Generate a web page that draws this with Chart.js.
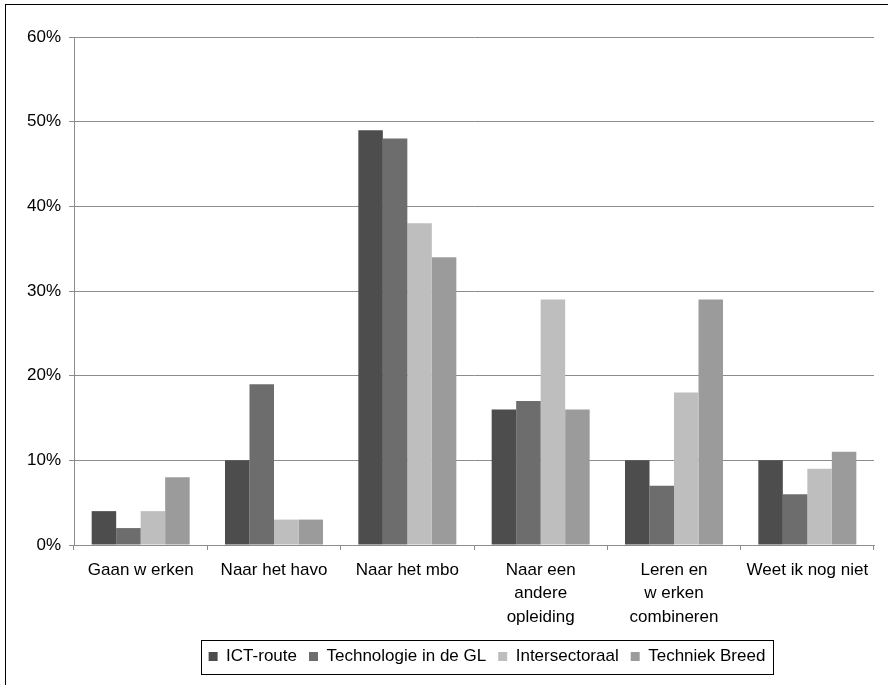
<!DOCTYPE html>
<html>
<head>
<meta charset="utf-8">
<script src="https://cdn.jsdelivr.net/npm/chart.js@4/dist/chart.umd.min.js"></script>
<style>
  body { margin: 0; background: #fff; }
  canvas { display: block; }
</style>
</head>
<body>
<canvas id="myChart" width="888" height="685"></canvas>
<script>
// categories (x axis), multi line ones as arrays
var categories = [
  "Gaan w erken",
  "Naar het havo",
  "Naar het mbo",
  ["Naar een", "andere", "opleiding"],
  ["Leren en", "w erken", "combineren"],
  "Weet ik nog niet"
];

// percentages per series
var ictRoute = [4, 10, 49, 16, 10, 10];
var technologieGL = [2, 19, 48, 17, 7, 6];
var intersectoraal = [4, 3, 38, 29, 18, 9];
var techniekBreed = [8, 3, 34, 16, 29, 11];

var seriesNames = ["ICT-route", "Technologie in de GL", "Intersectoraal", "Techniek Breed"];
var barColors = ["#4d4d4d", "#6d6d6d", "#bebebe", "#9b9b9b"];

var yTicks = [0, 10, 20, 30, 40, 50, 60];

var fontFam = "'Liberation Sans', Arial, sans-serif";
var gridGray = "#8c8c8c";

// black frame round the whole chart (right/bottom edge falls off the picture)
var framePlugin = {
  id: "frame",
  beforeDraw: function(chart) {
    var ctx = chart.ctx;
    ctx.save();
    ctx.fillStyle = "#fff";
    ctx.fillRect(0, 0, chart.width, chart.height);
    ctx.strokeStyle = "#000";
    ctx.lineWidth = 1;
    ctx.strokeRect(5.5, 4.5, 900, 700);
    ctx.restore();
  }
};

// legend sits a bit right of centre in the original, and has a box round it
var legendBoxPlugin = {
  id: "legendBox",
  afterLayout: function(chart) {
    var lg = chart.legend;
    if (!lg) return;
    lg.left += 50;
    lg.right += 50;
  },
  afterDraw: function(chart) {
    var lg = chart.legend;
    if (!lg || !lg.legendHitBoxes || !lg.legendHitBoxes.length) return;
    var boxes = lg.legendHitBoxes;
    var first = boxes[0];
    var last = boxes[boxes.length - 1];
    var x1 = Math.round(first.left) - 7.5;
    var x2 = Math.round(last.left + last.width) + 8.5;
    var midY = first.top + first.height / 2;
    var y1 = Math.round(midY - 17) + 0.5;
    var y2 = Math.round(midY + 17) + 0.5;
    var ctx = chart.ctx;
    ctx.save();
    ctx.strokeStyle = "#000";
    ctx.lineWidth = 1;
    ctx.strokeRect(x1, y1, x2 - x1, y2 - y1);
    ctx.restore();
  }
};

var datasets = [ictRoute, technologieGL, intersectoraal, techniekBreed].map(function(vals, i) {
  return {
    label: seriesNames[i],
    data: vals,
    backgroundColor: barColors[i],
    borderWidth: 0,
    categoryPercentage: 0.735,
    barPercentage: 1.0
  };
});

new Chart("myChart", {
  type: "bar",
  data: {
    labels: categories,
    datasets: datasets
  },
  plugins: [framePlugin, legendBoxPlugin],
  options: {
    responsive: false,
    animation: false,
    devicePixelRatio: 1,
    layout: {
      autoPadding: false,
      padding: { top: 37, left: 0, right: 14, bottom: 10 }
    },
    plugins: {
      tooltip: { enabled: false },
      legend: {
        position: "bottom",
        labels: {
          boxWidth: 9,
          boxHeight: 9,
          padding: 12,
          color: "#000",
          font: { family: fontFam, size: 17 }
        }
      }
    },
    scales: {
      x: {
        grid: {
          display: true,
          offset: true,
          drawOnChartArea: false,
          drawTicks: true,
          tickLength: 5,
          color: gridGray
        },
        border: { color: gridGray },
        ticks: {
          color: "#000",
          padding: 8,
          maxRotation: 0,
          autoSkip: false,
          font: { family: fontFam, size: 17, lineHeight: 1.4 }
        },
        afterFit: function(scale) { scale.height = 91; }
      },
      y: {
        min: 0,
        max: 60,
        afterBuildTicks: function(scale) {
          scale.ticks = yTicks.map(function(v) { return { value: v }; });
        },
        grid: {
          color: gridGray,
          drawTicks: true,
          tickLength: 5
        },
        border: { color: gridGray },
        ticks: {
          color: "#000",
          padding: 8,
          font: { family: fontFam, size: 17 },
          callback: function(v) { return v + "%"; }
        },
        afterFit: function(scale) { scale.width = 74; }
      }
    }
  }
});
</script>
</body>
</html>
